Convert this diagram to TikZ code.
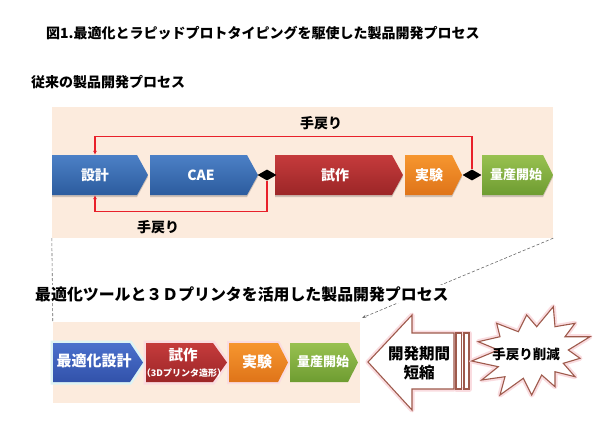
\documentclass[tikz,border=0pt]{standalone}
\usepackage{fontspec}
\setmainfont{Noto Sans CJK JP}
\usetikzlibrary{arrows.meta,shapes.geometric,calc}
\definecolor{peach}{HTML}{FCEBDD}
\definecolor{blueT}{HTML}{4C80C6}
\definecolor{blueB}{HTML}{2C5C9E}
\definecolor{blue2T}{HTML}{4A70CC}
\definecolor{blue2B}{HTML}{3252AA}
\definecolor{redT}{HTML}{C53B3C}
\definecolor{redB}{HTML}{9C2627}
\definecolor{orT}{HTML}{F6962F}
\definecolor{orB}{HTML}{DF7419}
\definecolor{grT}{HTML}{98C150}
\definecolor{grB}{HTML}{6E9C31}
\definecolor{fbred}{HTML}{E8202A}
\definecolor{brown}{HTML}{9E5A4C}
\definecolor{glowpink}{HTML}{FADCE0}
\definecolor{glowcyan}{HTML}{DDF3F4}
\newcommand{\chev}[6]{\path[#6] (#1,#4) -- (#2,#4) -- (#3,{(#4+#5)/2}) -- (#2,#5) -- (#1,#5) -- cycle;}
\begin{document}
\begin{tikzpicture}[x=1pt,y=-1pt,
  bgbox/.style={fill=peach, draw=none, inner sep=0pt},
  lbl/.style={text=white, font=\bfseries\fontsize{14}{14}\selectfont, inner sep=0pt},
  head/.style={text=black, font=\bfseries\fontsize{14}{14}\selectfont, inner sep=1pt},
  fb/.style={draw=fbred, line width=1.3pt, -{Latex[length=4pt,width=4pt]}},
  dia/.style={shape=diamond, fill=black, inner sep=0pt, minimum width=19pt, minimum height=11pt},
  dashline/.style={draw=gray!80!black, line width=0.6pt, dash pattern=on 3pt off 2pt},
  shad/.style={fill=black, opacity=0.18},
  outl/.style={draw=brown, line width=1.1pt, fill=white, line join=miter},
  glow/.style={draw=glowpink, line width=5pt, line join=round}
]
\useasboundingbox[fill=white] (0,0) rectangle (598,429);

% titles
\node[head, anchor=west] (title) at (45,33) {図1.最適化とラピッドプロトタイピングを駆使した製品開発プロセス};
\node[head, anchor=west] (sub1) at (30,82) {従来の製品開発プロセス};

% backgrounds
\node[bgbox, minimum width=501pt, minimum height=131pt] (topbg) at (302.5,172.5) {};
\node[bgbox, minimum width=307pt, minimum height=81pt] (botbg) at (206.5,362.5) {};

% dashed connectors
\draw[dashline] (topbg.south west) -- (botbg.north west);
\draw[dashline, -{Stealth[length=4pt,width=3pt]}] (topbg.south east) -- ([shift={(2,-4)}]botbg.north east);

\node[head, anchor=west, fill=white, font=\bfseries\fontsize{15.9}{15.9}\selectfont] (sub2) at (34,294) {最適化ツールと３Ｄプリンタを活用した製品開発プロセス};

% top row shadows
\chev{52}{137}{148}{157}{197}{shad}
\chev{150}{247}{258}{157}{197}{shad}
\chev{275}{392}{403}{157}{197}{shad}
\chev{405}{452}{462}{157}{197}{shad}
\chev{482}{543}{553}{157}{197}{shad}
% top row chevrons
\chev{52}{137}{148}{155}{195}{top color=blueT, bottom color=blueB}
\chev{150}{247}{258}{155}{195}{top color=blueT, bottom color=blueB}
\chev{275}{392}{403}{155}{195}{top color=redT, bottom color=redB}
\chev{405}{452}{462}{155}{195}{top color=orT, bottom color=orB}
\chev{482}{543}{553}{155}{195}{top color=grT, bottom color=grB}

\node[lbl, minimum height=40pt] (s1) at (95,175) {設計};
\node[lbl] (cae) at (201,175) {CAE};
\node[lbl] (t3) at (335,175) {試作};
\node[lbl] (t4) at (429,175) {実験};
\node[lbl, font=\bfseries\fontsize{13}{13}\selectfont] (t5) at (516,175) {量産開始};

\node[dia] (d1) at (267,175) {};
\node[dia] (d2) at (472,175) {};

% feedback loops
\draw[fb] (d2.north) |- ($(s1.north)+(0,-18)$) -- (s1.north);
\draw[fb] (d1.south) |- ($(s1.south)+(0,16)$) -- (s1.south);
\node[head] (fbtop) at (321,123) {手戻り};
\node[head] (fbbot) at (158,227) {手戻り};

% bottom row glows
\chev{53}{130}{143}{343}{382}{draw=glowcyan, line width=5pt}
\chev{146}{213}{227}{343}{382}{draw=glowpink, line width=5pt}
\chev{229}{278}{288}{343}{382}{draw=glowpink, line width=4pt}
% bottom row chevrons
\chev{53}{130}{143}{343}{382}{top color=blue2T, bottom color=blue2B}
\chev{146}{213}{227}{343}{382}{top color=redT, bottom color=redB}
\chev{229}{278}{288}{343}{382}{top color=orT, bottom color=orB}
\chev{290}{348}{358}{343}{382}{top color=grT, bottom color=grB}

\node[lbl, font=\bfseries\fontsize{15}{15}\selectfont] (b1) at (94,361) {最適化設計};
\node[lbl, font=\bfseries\fontsize{14.5}{14.5}\selectfont] (b2) at (183,355) {試作};
\node[lbl, font=\bfseries\fontsize{9}{9}\selectfont] (b2s) at (184,373) {（3Dプリンタ造形）};
\node[lbl, font=\bfseries\fontsize{15}{15}\selectfont] (b3) at (257,362) {実験};
\node[lbl, font=\bfseries\fontsize{13}{13}\selectfont] (b4) at (323,362) {量産開始};

% big arrow
\path[glow] (368,362) -- (412,315) -- (412,333) -- (454,333) -- (454,389) -- (412,389) -- (412,410) -- cycle;
\path[glow] (456,333) rectangle (469,389);
\path[outl] (368,362) -- (412,315) -- (412,333) -- (454,333) -- (454,389) -- (412,389) -- (412,410) -- cycle;
\path[outl] (456,333) rectangle (461.5,389);
\path[outl] (464,333) rectangle (469,389);
\node[head, font=\bfseries\fontsize{15.5}{19}\selectfont, align=center] (shorten) at (419,363) {開発期間\\短縮};

% starburst
\path[glow] (471.7,361) -- (498.3,350) -- (478.3,341.7) -- (500,336.7) -- (496.7,323.3) -- (518.3,331.7) -- (526.7,315) -- (536.7,326.7) -- (553.3,306.7) -- (555,326.7) -- (575,323.3) -- (565,336.7) -- (590,336.7) -- (568.3,350) -- (580,358.3) -- (563.3,363.3) -- (575,376.7) -- (555,371.7) -- (555,386.7) -- (541.7,375) -- (531.7,395) -- (523.3,378.3) -- (500,395) -- (505,376.7) -- (481.7,380) -- (498.3,366.7) -- cycle;
\path[outl] (471.7,361) -- (498.3,350) -- (478.3,341.7) -- (500,336.7) -- (496.7,323.3) -- (518.3,331.7) -- (526.7,315) -- (536.7,326.7) -- (553.3,306.7) -- (555,326.7) -- (575,323.3) -- (565,336.7) -- (590,336.7) -- (568.3,350) -- (580,358.3) -- (563.3,363.3) -- (575,376.7) -- (555,371.7) -- (555,386.7) -- (541.7,375) -- (531.7,395) -- (523.3,378.3) -- (500,395) -- (505,376.7) -- (481.7,380) -- (498.3,366.7) -- cycle;
\node[head, font=\bfseries\fontsize{13.5}{13.5}\selectfont] (burst) at (526,354) {手戻り削減};
\end{tikzpicture}
\end{document}
